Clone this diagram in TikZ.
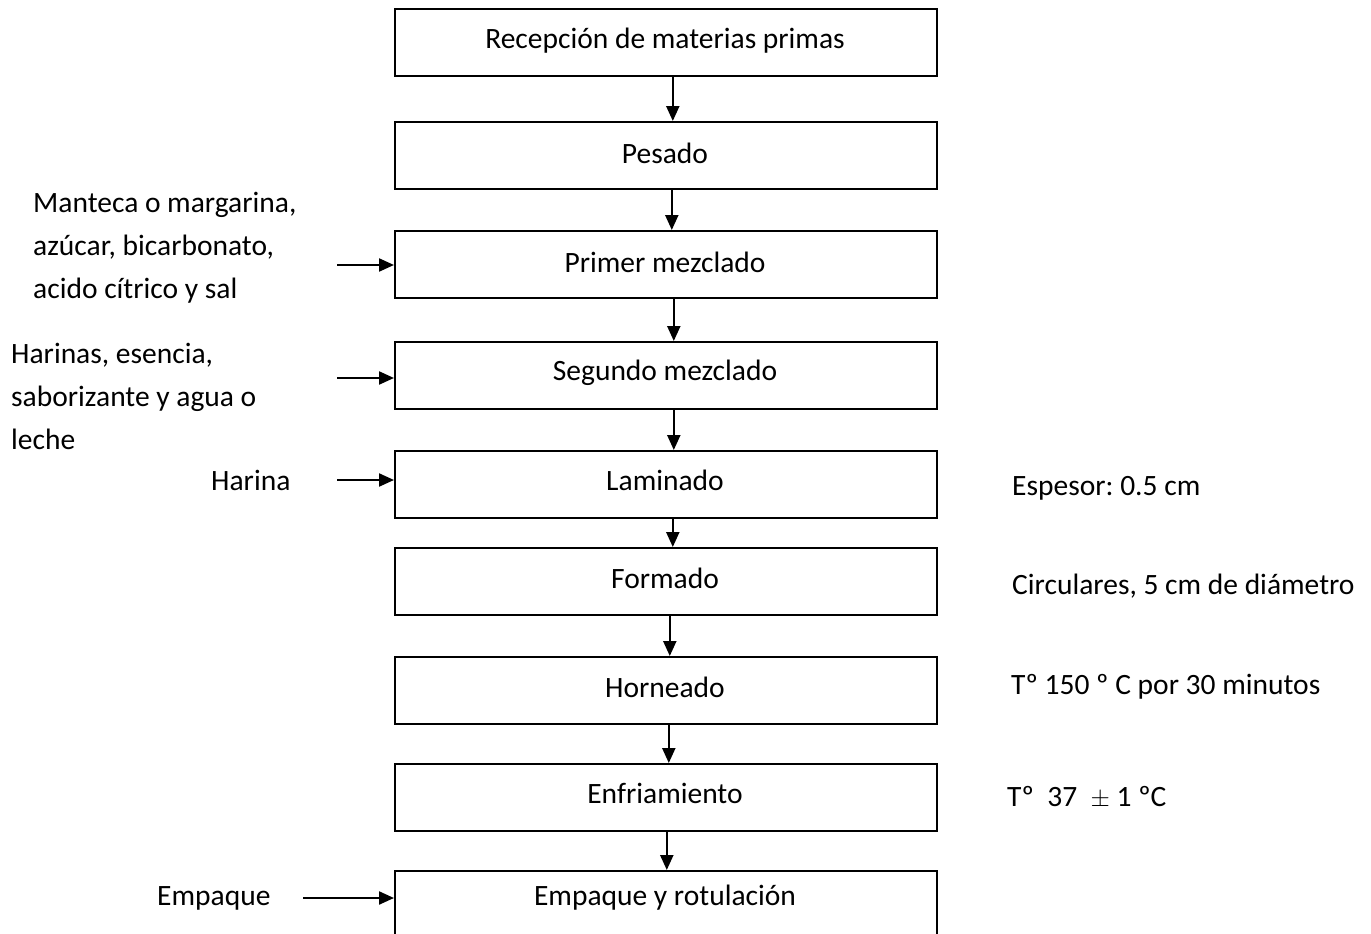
\documentclass[tikz,border=0pt]{standalone}
\usepackage{fontspec}
\setmainfont{Carlito}
\usetikzlibrary{arrows.meta}
\frenchspacing
\begin{document}
\begin{tikzpicture}[x=1pt,y=-1pt,
  every node/.style={font=\fontsize{29.5}{43}\selectfont, inner sep=0pt},
  stepbox/.style={draw, line width=1.6pt, minimum width=542pt, minimum height=67pt, anchor=north west},
  flow/.style={line width=2.2pt, -{Triangle[length=15pt,width=13pt]}},
  lbl/.style={anchor=west, align=left}
]
\useasboundingbox (0,0) rectangle (1371,934);
\clip (0,0) rectangle (1371,934);
\fill[white] (0,0) rectangle (1371,934);

\node[stepbox] (b1) at (394,8) {};
\node at (665,41) {Recepción de materias primas};
\node[stepbox] (b2) at (394,121) {};
\node at (665,153) {Pesado};
\node[stepbox] (b3) at (394,230) {};
\node at (665,262) {Primer mezclado};
\node[stepbox] (b4) at (394,341) {};
\node at (665,373) {Segundo mezclado};
\node[stepbox] (b5) at (394,450) {};
\node at (665,480) {Laminado};
\node[stepbox] (b6) at (394,547) {};
\node at (665,578) {Formado};
\node[stepbox] (b7) at (394,656) {};
\node at (665,687) {Horneado};
\node[stepbox] (b8) at (394,763) {};
\node at (665,793) {Enfriamiento};
\node[stepbox, minimum height=90pt] (b9) at (394,870) {};
\node at (665,898) {Empaque y rotulación};

\draw[flow] ([xshift=7pt]b1.south) -- ([xshift=7pt]b2.north);
\draw[flow] ([xshift=6pt]b2.south) -- ([xshift=6pt]b3.north);
\draw[flow] ([xshift=8pt]b3.south) -- ([xshift=8pt]b4.north);
\draw[flow] ([xshift=8pt]b4.south) -- ([xshift=8pt]b5.north);
\draw[flow] ([xshift=7pt]b5.south) -- ([xshift=7pt]b6.north);
\draw[flow] ([xshift=4pt]b6.south) -- ([xshift=4pt]b7.north);
\draw[flow] ([xshift=3pt]b7.south) -- ([xshift=3pt]b8.north);
\draw[flow] ([xshift=1pt]b8.south) -- ([xshift=1pt]b9.north);

\coordinate (i3) at (337,265);
\coordinate (i4) at (337,378);
\coordinate (i5) at (337,480);
\coordinate (i9) at (303,898);
\draw[flow] (i3) -- (i3 -| b3.west);
\draw[flow] (i4) -- (i4 -| b4.west);
\draw[flow] (i5) -- (i5 -| b5.west);
\draw[flow] (i9) -- (i9 -| b9.west);

\node[lbl, anchor=north west] (t3) at (33,192) {Manteca o margarina,\\azúcar, bicarbonato,\\acido cítrico y sal};
\node[lbl, anchor=north west] (t4) at (11,343) {Harinas, esencia,\\saborizante y agua o\\leche};
\node[lbl] (t5) at (211,480) {Harina};
\node[lbl] (t9) at (157,898) {Empaque};

\node[lbl] (r5) at (1012,488) {Espesor: 0.5 cm};
\node[lbl] (r6) at (1012,586) {Circulares, 5 cm de diámetro};
\node[lbl] (r7) at (1011,687) {Tº 150 º C por 30 minutos};
\node[lbl] (r8) at (1007,797) {Tº\ \ 37\ \ $\pm$ 1 ºC};
\end{tikzpicture}
\end{document}
